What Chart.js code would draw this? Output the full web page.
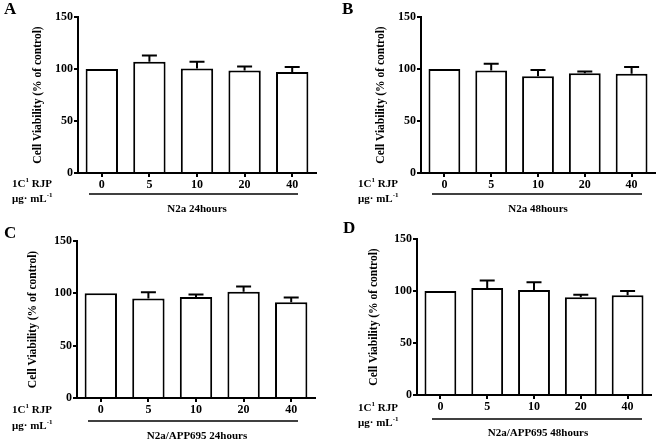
<!DOCTYPE html>
<html>
<head>
<meta charset="utf-8">
<script src="https://cdn.jsdelivr.net/npm/chart.js@4.4.0/dist/chart.umd.min.js"></script>
<style>
    html, body { margin: 0; padding: 0; background: #fff; }
    #wrap { position: relative; width: 660px; height: 441px; overflow: hidden; }
    #wrap canvas { position: absolute; }
</style>
</head>
<body>
<div id="wrap">
    <canvas id="chartA" width="330" height="220" style="left:0;top:0"></canvas>
    <canvas id="chartB" width="330" height="220" style="left:330px;top:0"></canvas>
    <canvas id="chartC" width="330" height="221" style="left:0;top:220px"></canvas>
    <canvas id="chartD" width="330" height="221" style="left:330px;top:220px"></canvas>
</div>
<script>
// RJP dose (µg/mL)
const doses = ['0', '5', '10', '20', '40'];
const yTicks = [0, 50, 100, 150];

// cell viability (% of control), mean and upper SD
const viabilityA = [100, 107, 100.5, 98.5, 97];
const errorA = [0, 6, 6.5, 4, 5];
const viabilityB = [100, 98.5, 93, 96, 95.5];
const errorB = [0, 6.5, 6, 1.5, 6.5];
const viabilityC = [100, 95, 96.5, 101.5, 91.5];
const errorC = [0, 6, 2.5, 5, 4.5];
const viabilityD = [100, 103, 101, 94, 96];
const errorD = [0, 7, 7.5, 2.5, 4];

const panelLetters = ['A', 'B', 'C', 'D'];
const groupLabels = ['N2a 24hours', 'N2a 48hours', 'N2a/APP695 24hours', 'N2a/APP695 48hours'];
const yTitle = 'Cell Viability (% of control)';

const SERIF = '"Liberation Serif", "Times New Roman", serif';

// per-panel layout (canvas-local pixels)
const panels = [
    { id: 'chartA', data: viabilityA, err: errorA, left: 78, right: 316, top: 17, bottom: 173,
      letterX: 4, letterY: 10, titleX: 38, rowX: 12, row1: 184, row2: 199, lineY: 194, lineX: [89, 298], groupX: 197, groupY: 209 },
    { id: 'chartB', data: viabilityB, err: errorB, left: 91, right: 325, top: 17, bottom: 173,
      letterX: 12, letterY: 10, titleX: 51, rowX: 28, row1: 184, row2: 199, lineY: 194, lineX: [102, 312], groupX: 208, groupY: 209 },
    { id: 'chartC', data: viabilityC, err: errorC, left: 77, right: 315, top: 21, bottom: 178,
      letterX: 4, letterY: 14, titleX: 33, rowX: 12, row1: 190, row2: 206, lineY: 201, lineX: [88, 298], groupX: 197, groupY: 216 },
    { id: 'chartD', data: viabilityD, err: errorD, left: 87, right: 321, top: 19, bottom: 175,
      letterX: 13, letterY: 9, titleX: 44, rowX: 28, row1: 188, row2: 203, lineY: 199, lineX: [102, 312], groupX: 208, groupY: 213 }
];

function drawParts(ctx, x, y, parts) {
    // text with superscript pieces, left aligned, vertically centred on y
    ctx.textAlign = 'left';
    ctx.textBaseline = 'middle';
    parts.forEach(([txt, sup]) => {
        ctx.font = sup ? 'bold 7px ' + SERIF : 'bold 11px ' + SERIF;
        ctx.fillText(txt, x, sup ? y - 4 : y);
        x += ctx.measureText(txt).width;
    });
}

function makePanel(p, idx) {
    const canvas = document.getElementById(p.id);
    const W = canvas.width, H = canvas.height;

    const errorBars = {
        id: 'errorBars',
        afterDatasetsDraw(chart) {
            const ctx = chart.ctx;
            const meta = chart.getDatasetMeta(0);
            const yScale = chart.scales.y;
            ctx.save();
            ctx.strokeStyle = '#000';
            ctx.lineWidth = 2;
            meta.data.forEach((bar, i) => {
                const e = p.err[i];
                if (!e) return;
                const top = yScale.getPixelForValue(p.data[i] + e);
                ctx.beginPath();
                ctx.moveTo(bar.x, bar.y);
                ctx.lineTo(bar.x, top);
                ctx.moveTo(bar.x - 7.5, top);
                ctx.lineTo(bar.x + 7.5, top);
                ctx.stroke();
            });
            ctx.restore();
        }
    };

    const annotations = {
        id: 'annotations',
        afterDraw(chart) {
            const ctx = chart.ctx;
            const area = chart.chartArea;
            ctx.save();
            ctx.fillStyle = '#000';

            // panel letter
            ctx.font = 'bold 17px ' + SERIF;
            ctx.textAlign = 'left';
            ctx.textBaseline = 'middle';
            ctx.fillText(panelLetters[idx], p.letterX, p.letterY);

            // y axis title
            ctx.save();
            ctx.translate(p.titleX, (area.top + area.bottom) / 2);
            ctx.rotate(-Math.PI / 2);
            ctx.font = 'bold 11.5px ' + SERIF;
            ctx.textAlign = 'center';
            ctx.fillText(yTitle, 0, 0);
            ctx.restore();

            // row labels
            drawParts(ctx, p.rowX, p.row1, [['1C', 0], ['1', 1], [' RJP', 0]]);
            drawParts(ctx, p.rowX, p.row2, [['\u03bcg\u00b7 mL', 0], ['-1', 1]]);

            // group underline and label
            ctx.strokeStyle = '#000';
            ctx.lineWidth = 1.5;
            ctx.beginPath();
            ctx.moveTo(p.lineX[0], p.lineY);
            ctx.lineTo(p.lineX[1], p.lineY);
            ctx.stroke();
            ctx.font = 'bold 11px ' + SERIF;
            ctx.textAlign = 'center';
            ctx.fillText(groupLabels[idx], p.groupX, p.groupY);
            ctx.restore();
        }
    };

    return new Chart(canvas, {
        type: 'bar',
        data: {
            labels: doses,
            datasets: [{
                data: p.data,
                backgroundColor: '#fff',
                borderColor: '#000',
                borderWidth: 2,
                borderSkipped: 'start',
                barPercentage: 0.68,
                categoryPercentage: 1
            }]
        },
        options: {
            responsive: false,
            animation: false,
            devicePixelRatio: 1,
            layout: { padding: { left: 0, top: p.top, right: W - p.right, bottom: 0 } },
            plugins: { legend: { display: false }, tooltip: { enabled: false } },
            scales: {
                x: {
                    afterFit(scale) { scale.height = H - p.bottom; },
                    grid: { display: true, drawOnChartArea: false, offset: false, tickLength: 4, color: '#000', lineWidth: 2 },
                    border: { color: '#000', width: 2 },
                    ticks: { color: '#000', padding: 1, font: { family: SERIF, size: 12, weight: 'bold' } }
                },
                y: {
                    min: 0,
                    max: 150,
                    afterFit(scale) { scale.width = p.left; },
                    afterBuildTicks(scale) { scale.ticks = yTicks.map(v => ({ value: v })); },
                    grid: { display: true, drawOnChartArea: false, tickLength: 4, color: '#000', lineWidth: 2 },
                    border: { color: '#000', width: 2 },
                    ticks: { color: '#000', padding: 1, font: { family: SERIF, size: 12, weight: 'bold' } }
                }
            }
        },
        plugins: [errorBars, annotations]
    });
}

panels.forEach((p, i) => makePanel(p, i));
</script>
</body>
</html>
